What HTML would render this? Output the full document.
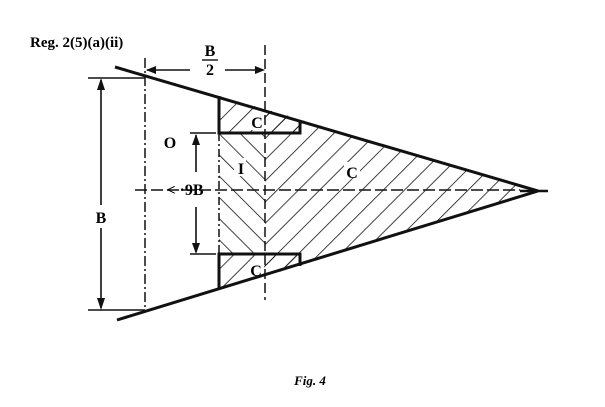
<!DOCTYPE html>
<html><head><style>body{margin:0;background:#fff}svg{display:block}</style></head><body>
<svg width="605" height="407" xmlns="http://www.w3.org/2000/svg" font-family="Liberation Serif, serif">
<defs>
<pattern id="hr" patternUnits="userSpaceOnUse" width="15" height="15" patternTransform="rotate(45)"><line x1="0" y1="0" x2="0" y2="15" stroke="#111" stroke-width="1.6"/></pattern>
<pattern id="hl" patternUnits="userSpaceOnUse" width="15" height="15" patternTransform="rotate(-45)"><line x1="0" y1="0" x2="0" y2="15" stroke="#111" stroke-width="1.6"/></pattern>
</defs>
<text x="30" y="47" font-size="15" font-weight="bold">Reg. 2(5)(a)(ii)</text>
<polygon points="265,109 538,191 265,273" fill="url(#hr)"/>
<polygon points="219,133 265,133 265,254 219,254" fill="url(#hl)"/>
<polygon points="219,96 300,119 300,133 219,133" fill="url(#hr)"/>
<polygon points="219,254 300,254 300,266 219,289" fill="url(#hr)"/>
<g fill="#fff">
<rect x="250" y="114" width="14" height="16"/><rect x="248" y="262" width="16" height="16"/>
<rect x="344" y="162" width="16" height="16"/><rect x="234" y="158" width="12" height="18"/>
<rect x="166" y="180" width="40" height="18"/><rect x="162" y="134" width="16" height="16"/>
</g>
<g stroke="#111" fill="none">
<line x1="115" y1="67" x2="538" y2="191" stroke-width="3"/>
<line x1="117" y1="320" x2="538" y2="191" stroke-width="3"/>
<line x1="520" y1="191" x2="548" y2="191" stroke-width="2.5"/>
<polyline points="219,96 219,133 300,133 300,120" stroke-width="3"/>
<polyline points="219,289 219,254 300,254 300,266" stroke-width="3"/>
<line x1="219" y1="133" x2="219" y2="254" stroke-width="1.5" stroke-dasharray="8,3,2,3"/>
<line x1="265" y1="45" x2="265" y2="300" stroke-width="1.5" stroke-dasharray="10,4"/>
<line x1="145" y1="58" x2="145" y2="308" stroke-width="1.5" stroke-dasharray="10,3,2,3"/>
<line x1="135" y1="190" x2="520" y2="190" stroke-width="1.5" stroke-dasharray="12,4"/>
<line x1="88" y1="78" x2="145" y2="78" stroke-width="1.4"/>
<line x1="88" y1="310" x2="145" y2="310" stroke-width="1.4"/>
<line x1="101" y1="80" x2="101" y2="205" stroke-width="1.6"/>
<line x1="101" y1="228" x2="101" y2="308" stroke-width="1.6"/>
<line x1="147" y1="70" x2="190" y2="70" stroke-width="1.6"/>
<line x1="225" y1="70" x2="263" y2="70" stroke-width="1.6"/>
<line x1="190" y1="133" x2="216" y2="133" stroke-width="1.4"/>
<line x1="190" y1="254" x2="216" y2="254" stroke-width="1.4"/>
<line x1="196" y1="135" x2="196" y2="172" stroke-width="1.6"/>
<line x1="196" y1="207" x2="196" y2="252" stroke-width="1.6"/>
</g>
<g fill="#111">
<polygon points="101,78 97,90 105,90"/><polygon points="101,310 97,298 105,298"/>
<polygon points="146,70 156,66 156,74"/><polygon points="265,70 255,66 255,74"/>
<polygon points="196,134 192,145 200,145"/><polygon points="196,254 192,243 200,243"/>
</g>
<g font-size="16" font-weight="bold" text-anchor="middle">
<text x="210" y="56">B</text>
<line x1="202" y1="60" x2="218" y2="60" stroke="#111" stroke-width="1.4"/>
<text x="210" y="75">2</text>
<text x="101" y="223">B</text>
<text x="170" y="148">O</text>
<text x="185" y="195">&lt; ·9B</text>
<text x="241" y="174">I</text>
<text x="257" y="128">C</text>
<text x="256" y="276">C</text>
<text x="352" y="178">C</text>
<text x="310" y="385" font-style="italic" font-size="13">Fig. 4</text>
</g>
</svg>
</body></html>
